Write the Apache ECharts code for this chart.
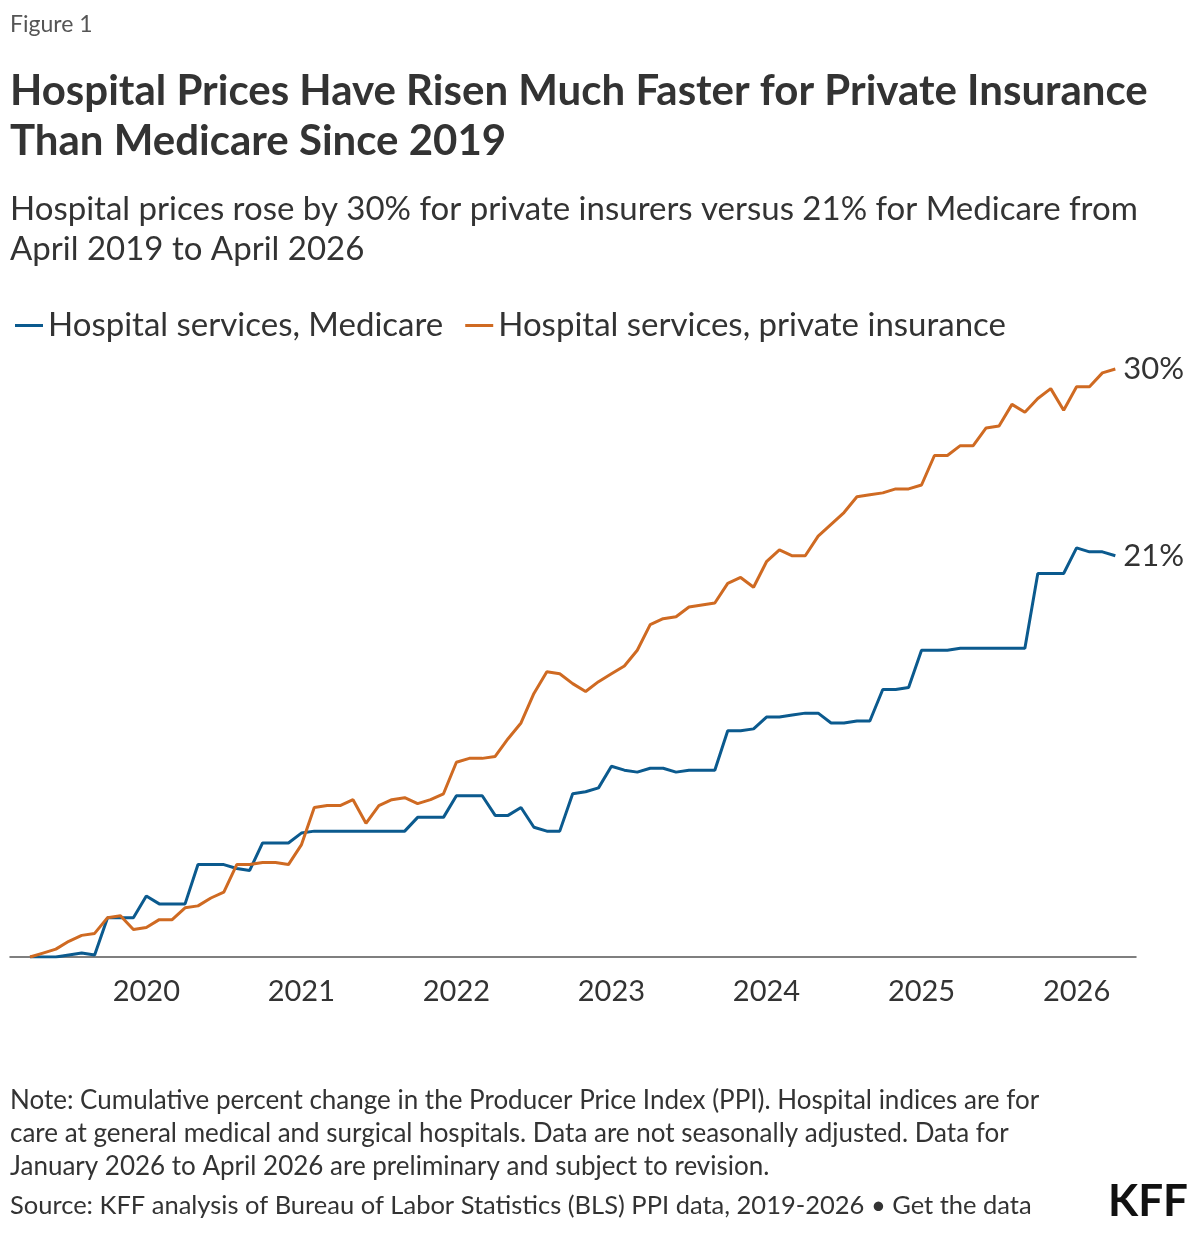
<html>
<head>
<meta charset="utf-8">
<title>Hospital prices</title>
<script src="https://cdn.jsdelivr.net/npm/echarts@6/dist/echarts.min.js"></script>
<style>body{margin:0;background:#fff}</style>
</head>
<body>
<div id="chartmain" style="width:1200px;height:1235px;"></div>
<script type="text/javascript">
// monthly values, April 2019 (index 0) to April 2026 (index 84), cumulative % change
var medicare = [0,0,0,0.1,0.2,0.1,2.0,2.0,2.0,3.1,2.7,2.7,2.7,4.7,4.7,4.7,4.5,4.4,5.8,5.8,5.8,6.3,6.4,6.4,6.4,6.4,6.4,6.4,6.4,6.4,
    7.1,7.1,7.1,8.2,8.2,8.2,7.2,7.2,7.6,6.6,6.4,6.4,8.3,8.4,8.6,9.7,9.5,9.4,9.6,9.6,9.4,9.5,9.5,9.5,11.5,11.5,11.6,12.2,12.2,12.3,
    12.4,12.4,11.9,11.9,12.0,12.0,13.6,13.6,13.7,15.6,15.6,15.6,15.7,15.7,15.7,15.7,15.7,15.7,19.5,19.5,19.5,20.8,20.6,20.6,20.4];
var privateIns = [0,0.2,0.4,0.8,1.1,1.2,2.0,2.1,1.4,1.5,1.9,1.9,2.5,2.6,3.0,3.3,4.7,4.7,4.8,4.8,4.7,5.7,7.6,7.7,7.7,8.0,6.8,7.7,8.0,8.1,
    7.8,8.0,8.3,9.9,10.1,10.1,10.2,11.1,11.9,13.4,14.5,14.4,13.9,13.5,14.0,14.4,14.8,15.6,16.9,17.2,17.3,17.8,17.9,18.0,19.0,19.3,18.8,20.1,20.7,20.4,
    20.4,21.4,22.0,22.6,23.4,23.5,23.6,23.8,23.8,24.0,25.5,25.5,26.0,26.0,26.9,27.0,28.1,27.7,28.4,28.9,27.8,29.0,29.0,29.7,29.9];
var seriesNames = ['Hospital services, Medicare', 'Hospital services, private insurance'];
var endLabels = ['21%', '30%'];
var yearTicks = [9, 21, 33, 45, 57, 69, 81]; // January of 2020..2026
var yearLabels = ['2020','2021','2022','2023','2024','2025','2026'];

function pairs(arr){
    var out = [];
    for (var i = 0; i < arr.length; i++) out.push([i, arr[i]]);
    return out;
}

var font = 'Lato, "Noto Sans", sans-serif';
var myChart = echarts.init(document.getElementById('chartmain'));
var option = {
    animation: false,
    textStyle: {fontFamily: font},
    color: ['#0b5a8e', '#cf6a22'],
    graphic: [
        {type:'text', left:10, top:13, style:{text:'Figure 1', font:'23px ' + font, fill:'#555'}},
        {type:'text', left:10, top:66, style:{text:'Hospital Prices Have Risen Much Faster for Private Insurance\nThan Medicare Since 2019', font:'bold 42px ' + font, fill:'#333', lineHeight:50}},
        {type:'text', left:10, top:189, style:{text:'Hospital prices rose by 30% for private insurers versus 21% for Medicare from\nApril 2019 to April 2026', font:'33px ' + font, fill:'#333', lineHeight:40}},
        {type:'text', left:10, top:1084, style:{text:'Note: Cumulative percent change in the Producer Price Index (PPI). Hospital indices are for\ncare at general medical and surgical hospitals. Data are not seasonally adjusted. Data for\nJanuary 2026 to April 2026 are preliminary and subject to revision.', font:'26px ' + font, fill:'#333', lineHeight:33}},
        {type:'text', left:10, top:1193, style:{text:'Source: KFF analysis of Bureau of Labor Statistics (BLS) PPI data, 2019-2026 \u2022 Get the data', font:'25.5px ' + font, fill:'#333'}},
        {type:'text', right:12, top:1180, style:{text:'KFF', font:'bold 44px ' + font, fill:'#111'}}
    ],
    legend: {
        left: 10, top: 304,
        icon: 'rect', itemWidth: 28, itemHeight: 3, itemGap: 22,
        textStyle: {fontSize: 33, color: '#333', fontFamily: font},
        data: seriesNames
    },
    grid: {left: 10, right: 64, top: 367, bottom: 278},
    xAxis: {
        type: 'value', min: -1.55, max: 85.6,
        splitLine: {show: false},
        axisLine: {show: true, onZero: false, lineStyle: {color: '#555', width: 1.5}},
        axisTick: {show: false},
        axisLabel: {
            customValues: yearTicks, fontSize: 29, color: '#333', margin: 20,
            formatter: function(v){ return yearLabels[yearTicks.indexOf(v)]; }
        }
    },
    yAxis: {type: 'value', min: 0, max: 30, show: false, splitLine: {show: false}},
    series: [medicare, privateIns].map(function(arr, k){
        return {
            name: seriesNames[k], type: 'line', data: pairs(arr),
            showSymbol: false, lineStyle: {width: 3},
            endLabel: {show: true, formatter: endLabels[k], fontSize: 31, color: '#333', distance: 8, fontFamily: font}
        };
    })
};
myChart.setOption(option);
</script>
</body>
</html>
